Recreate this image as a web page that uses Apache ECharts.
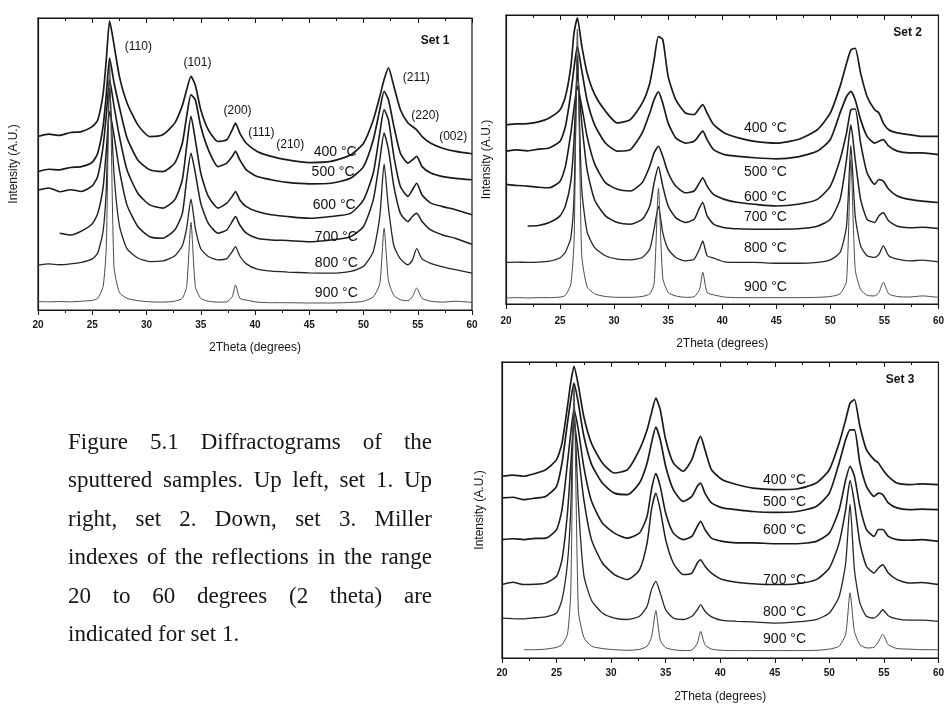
<!DOCTYPE html>
<html>
<head>
<meta charset="utf-8">
<script src="https://cdn.jsdelivr.net/npm/echarts@6/dist/echarts.min.js"></script>
<style>
  html, body { margin: 0; padding: 0; background: #ffffff; }
  #chart { width: 947px; height: 705px; }
</style>
</head>
<body>
<div id="chart"></div>
<script>
// Diffraction angle grid (degrees 2θ) shared by every pattern
const twoTheta = [20,21,22,23,24,25, 25.5,26,26.3,26.6,27,27.5, 28.2,29.2,30.3,31.5,32.6,33.3,
  33.7,34.1,34.5,35,35.7,36.6, 37.4,37.9,38.2,38.6,39.2,40.2, 41.5,43,45,47,48.8,50,
  50.9,51.5,51.9,52.3,52.8,53.4, 54.1,54.5,54.9,55.4,56.2,57.3, 58.5,60];

// Set 1 intensities (offset stack, arbitrary units)
const set1_400 = [59.4,60.2,59.8,60.8,61.1,62.8, 65,74,86,99,91,80, 71,63.4,59.4,60,64,70, 75.4,80,77,68.6,61.7,57.7, 58.3,61.7,64,60.6,57.1,54.3, 52.6,51.4,50.5,50.9,53.1,57.1, 65.1,73.1,78.9,82.9,76.6,68.6, 64,62.9,61.7,59.4,57.1,55.4, 54.3,53.5];
const set1_500 = [47.4,48.2,48,48.8,49.1,50.6, 53.7,62.9,74,86.3,78,69.5, 59,51.4,48,47.4,50.3,57.1, 66.3,73.7,72,62.9,54.9,49.1, 50.3,52.6,54.3,51.4,48,45.7, 44.6,43.7,43.2,43.4,45.1,49.1, 58.3,68.6,74.9,72,62.9,53.7, 50.3,51.4,52.6,49.1,46.9,45.7, 45.1,44.6];
const set1_600 = [41.1,41.8,40.5,41.2,40.6,42.5, 45.7,56,67,78.9,70,59.5, 48,40,36,34.9,37.7,44.6, 56,66.3,58.3,46.9,38.9,34.9, 36.6,38.9,40.6,37.7,35.4,33.7, 32.6,32,31.4,32,33.1,37.7, 46.9,60.6,68.6,65.1,52.6,42.3, 38.9,41.1,43.4,39.4,36.6,35.4, 34.3,32.6];
const set1_700 = [null,null,26.3,25.7,27,29.5, 33,42,54.9,68,60,48, 36,28.6,25.1,24.6,27.4,33.1, 44.6,53.7,46.9,36.6,29.7,26.3, 27.4,30.3,32,29.1,26.3,24.6, 24,23.8,23.4,24,25.1,28.6, 37.7,51.4,60.6,54.9,42.3,33.1, 30.3,32,33.1,30.3,27.4,25.7, 24.5,22.5];
const set1_800 = [15.4,15.8,15.5,15.8,16.3,17.5, 19.5,27,42,76,47,29, 21,17.8,16.6,16.8,18.5,22, 28,38,28,21,18.3,17.2, 17.6,20,21.7,18.5,15.8,14, 13.3,13,12.7,12.6,13.2,15, 20,32,50,35,22,17.5, 15.5,17,21,17.5,16,14.8, 13.8,12.6];
const set1_900 = [2.9,2.8,2.9,2.8,3,3.3, 4,8,22,85,15,6, 4,3.2,2.8,2.7,3,4, 8,30,8,4,3,2.7, 2.8,4.5,8.6,4,3.4,2.7, 2.5,2.5,2.4,2.4,2.6,3, 4.5,9,28,10,5,3.5, 3.2,4.5,7.5,4,3,2.7, 3,2.6];

// Set 2 intensities
const set2_400 = [62,62.3,62.4,63,64.4,67.2, 71.8,82.2,94,99,89.5,80, 72.5,66.7,62.6,63.8,69.5,76.4, 84.5,92.5,91.5,78.7,70.7,66.1, 65.5,67.8,69,66.1,62.1,59.2, 57.5,56.3,55.7,56.9,60.3,66.1, 75.3,83.3,87.9,88.5,79.9,71.8, 67.2,66.1,62.6,60.3,59.2,58.6, 58,58];
const set2_500 = [52.9,53.3,53,53.6,54,56.3, 61.5,73,82,89.1,81,70.5, 62,55.7,52.9,53.4,59.2,66.1, 70.7,73.4,69.5,62.6,57.5,55.7, 56.3,58.6,59.8,56.9,53.4,51.7, 51.1,50.6,50.2,50.9,52.9,56.9, 66.1,71.8,73.6,70.7,63.8,58, 55.7,56.3,56.9,54.6,52.9,52.3, 52.3,51.7];
const set2_600 = [41.4,41,40.8,40.4,40.2,42.5, 47.7,59.2,68,75.3,68.5,58, 48.5,42,39.7,39.1,42,47.7, 52.3,54.6,51.1,45.4,40.8,38.5, 39.1,42,43.7,40.8,37.9,36.2, 35.1,34.5,33.9,34.5,36.2,40.8, 50,59.2,67.2,67.5,55.7,45.4, 41.4,43.1,42.5,39.7,37.4,36.2, 35.6,35.1];
const set2_700 = [null,null,27,27.2,28.2,30.5, 34,42.5,57,80,63,46.5, 36,30.5,28.2,27.6,29.3,33.9, 42,47.5,40.8,33.9,29.9,28.2, 29.3,33.3,35.1,30.5,27.6,26.4, 26,25.9,25.9,26,26.9,29.3, 36.2,50,62,50,36.2,29.3, 28.2,30.5,31.6,28.7,26.9,26.4, 26.6,26.1];
const set2_800 = [14.4,14.5,14.4,14.5,14.8,16, 18,23,38,86,40,25, 19.5,16.7,15.5,15.3,16.1,19, 25.9,33.9,24.7,19,16.1,14.9, 15.5,19,21.8,16.7,15.9,14.6, 14.4,14.4,14.1,14.1,14.4,15.3, 17.8,27,55,30.5,20.1,16.7, 16.1,17.2,20.1,16.7,15.5,14.9, 15.2,14.6];
const set2_900 = [2.1,2.2,2.1,2.2,2.2,2.4, 3,7,22,95,17,6, 3.5,2.6,2.3,2.3,2.6,3.5, 7,40,9,4,2.8,2.3, 2.5,5,11,4,3.2,2.4, 2.2,2.2,2.2,2.2,2.3,2.6, 3.5,8,50,12,5,3, 2.8,4,7.5,3.5,2.6,2.4, 2.8,2.3];

// Set 3 intensities
const set3_400 = [61.4,61.8,61.4,62.3,63.6,67, 72.6,85,93,98.5,92,81.5, 72.5,65.9,62.5,63.6,70.4,77.1, 82.8,87.8,83.9,73.8,65.9,63.1, 67,72.6,74.9,70.4,63.6,60.2, 58.6,57.4,56.9,57.1,59.1,63.6, 72.6,80.5,86.1,87.3,78.3,70.4, 67,65.9,63.6,61.4,59.1,58.6, 58.8,58.6];
const set3_500 = [54.1,54.3,53.5,54,54.6,58, 65.9,79.4,87,92.9,86,75, 65.5,59.1,55.7,55.2,59.1,65.9, 72.6,78,73.8,64.8,56.9,52.9, 54.6,58,59.1,55.7,52.4,50.7, 50.1,49.5,49.2,49.5,51.2,55.7, 65.9,73.8,77.1,77.1,65.9,58, 54.6,55.7,55.2,52.4,50.7,50.1, 50.3,50.1];
const set3_600 = [40,40.3,40,40.4,40.5,43.4, 50.1,65.9,76,83.9,77,64.5, 53,45.6,42.2,40.5,42.2,47.9, 56.9,62.3,58,49,42.2,40, 41.1,44.5,46.2,43.4,40.5,39.4, 38.9,38.9,38.6,38.6,39.4,42.2, 50.1,60.2,64.8,61.4,51.2,43.4, 41.1,43.4,43.4,41.1,40,39.8, 40,39.4];
const set3_700 = [24.8,25.6,24.8,24.9,25.3,27.6, 33.2,49,65,80,69,53.5, 40,32.1,28.2,26.5,29.8,38.9, 50.1,55.7,50.1,40,32.1,28.2, 28.7,32.1,33.2,31,28.7,26.5, 25.6,25.1,24.8,25.1,26.5,30.4, 38.9,50.1,60,52.4,38.9,31, 28.7,30.4,31.5,28.7,26.5,25.3, 25.5,24.8];
const set3_800 = [13.5,13.3,13.2,13.6,13.9,15.2, 19.7,32.1,50,85,52,28, 19.5,15.2,13.5,13,14.1,17.5, 23.1,25.9,22,16.3,13.5,13, 14.1,16.3,18,15.8,13.9,12.7, 12.4,12.2,11.8,12.2,13,15.2, 20.8,32.1,52,29.8,18.6,14.1, 13.5,14.6,16.3,14.3,13.2,12.8, 12.8,12.4];
const set3_900 = [null,null,2.8,2.8,3,3.6, 4.5,8,22,92,16,7, 4,3.2,2.8,2.6,2.9,4, 7,16,6,3.5,2.8,2.5, 2.7,5,9,4.5,3,2.6, 2.5,2.5,2.5,2.5,2.6,3, 4,8,22,9,4.5,3.4, 3.6,5.5,8,4.5,3.2,3, 2.8,2.8];

// Annealing temperatures and where their labels sit (2θ, intensity)
const tempLabels = ['400 °C', '500 °C', '600 °C', '700 °C', '800 °C', '900 °C'];
const set1TempAt = [[47.4,54.2],[47.2,47.3],[47.3,36],[47.5,25],[47.5,16.1],[47.5,5.8]];
const set2TempAt = [[44,60.9],[44,45.7],[44,37],[44,30.1],[44,19.4],[44,5.9]];
const set3TempAt = [[45.9,60.2],[45.9,52.8],[45.9,43.3],[45.9,26.4],[45.9,15.6],[45.9,6.2]];

// Miller indices of the reflections (set 1)
const millerIndices = ['(110)', '(101)', '(200)', '(111)', '(210)', '(211)', '(220)', '(002)'];
const millerAt = [[29.25,90.2],[34.7,84.7],[38.4,68.2],[40.6,60.7],[43.25,56.6],[54.87,79.5],[55.7,66.5],[58.27,59.3]];

const setNames = ['Set 1', 'Set 2', 'Set 3'];
const setNameAt = [[56.6,92.2],[57.15,93.8],[56.5,94]];

const captionLines = [
  'Figure 5.1 Diffractograms of the',
  'sputtered samples. Up left, set 1. Up',
  'right, set 2. Down, set 3. Miller',
  'indexes of the reflections in the range',
  '20 to 60 degrees (2 theta) are',
  'indicated for set 1.'
];

// ---------------------------------------------------------------------------
const INK = '#161616';
const SANS = '"Liberation Sans", Arial, Helvetica, sans-serif';
const SERIF = '"Liberation Serif", "Times New Roman", serif';

const sets = [
  { curves: [set1_400, set1_500, set1_600, set1_700, set1_800, set1_900], temps: set1TempAt,
    grid: { left: 38, top: 18, width: 434, height: 292 }, labelMargin: 10, nameGap: 32, yNameGap: 18 },
  { curves: [set2_400, set2_500, set2_600, set2_700, set2_800, set2_900], temps: set2TempAt,
    grid: { left: 506, top: 15, width: 435, height: 289 }, labelMargin: 12, nameGap: 34, yNameGap: 13 },
  { curves: [set3_400, set3_500, set3_600, set3_700, set3_800, set3_900], temps: set3TempAt,
    grid: { left: 502, top: 362, width: 441, height: 296 }, labelMargin: 10, nameGap: 33, yNameGap: 16 }
];

const curveStyles = [
  { color: '#1a1a1a', width: 1.7 },
  { color: '#1a1a1a', width: 1.7 },
  { color: '#1a1a1a', width: 1.6 },
  { color: '#1e1e1e', width: 1.5 },
  { color: '#262626', width: 1.3 },
  { color: '#4a4a4a', width: 1.0 }
];

function pairs(values) {
  const out = [];
  values.forEach((v, i) => { if (v !== null) out.push([twoTheta[i], v]); });
  return out;
}

const grids = [], xAxes = [], yAxes = [], series = [];

sets.forEach((s, gi) => {
  grids.push(Object.assign({ show: true, borderColor: INK, borderWidth: 1.2, backgroundColor: 'transparent' }, s.grid));

  // bottom axis with labels
  xAxes.push({
    gridIndex: gi, type: 'value', min: 20, max: 60, interval: 5, position: 'bottom',
    axisLine: { show: true, onZero: false, lineStyle: { color: INK, width: 1.2 } },
    axisTick: { show: true, inside: false, length: 5, lineStyle: { color: INK, width: 1 } },
    minorTick: { show: true, splitNumber: 2, length: 3, lineStyle: { color: INK, width: 1 } },
    splitLine: { show: false },
    axisLabel: { margin: s.labelMargin, fontSize: 10, fontWeight: 'bold', color: INK, fontFamily: SANS },
    name: '2Theta (degrees)', nameLocation: 'middle', nameGap: s.nameGap,
    nameTextStyle: { fontSize: 12, color: INK, fontFamily: SANS }
  });
  // mirrored top axis, ticks only
  xAxes.push({
    gridIndex: gi, type: 'value', min: 20, max: 60, interval: 5, position: 'top',
    axisLine: { show: true, onZero: false, lineStyle: { color: INK, width: 1.2 } },
    axisTick: { show: true, inside: true, length: 5, lineStyle: { color: INK, width: 1 } },
    minorTick: { show: true, splitNumber: 2, length: 3, lineStyle: { color: INK, width: 1 } },
    splitLine: { show: false }, axisLabel: { show: false }
  });
  yAxes.push({
    gridIndex: gi, type: 'value', min: 0, max: 100,
    axisLine: { show: true, lineStyle: { color: INK, width: 1.2 } },
    axisTick: { show: false }, axisLabel: { show: false }, splitLine: { show: false },
    name: 'Intensity (A.U.)', nameLocation: 'middle', nameGap: s.yNameGap, nameRotate: 90,
    nameTextStyle: { fontSize: 12, color: INK, fontFamily: SANS }
  });

  s.curves.forEach((c, ci) => {
    series.push({
      type: 'line', xAxisIndex: gi * 2, yAxisIndex: gi, data: pairs(c),
      showSymbol: false, smooth: 0.2, silent: true, z: 2 + ci,
      lineStyle: curveStyles[ci]
    });
  });

  // temperature labels + set name
  const labelData = s.temps.map((p, i) => ({ value: p, label: { formatter: tempLabels[i] } }));
  labelData.push({ value: setNameAt[gi], label: { formatter: setNames[gi], fontWeight: 'bold', fontSize: 12 } });
  if (gi === 0) {
    millerAt.forEach((p, i) => labelData.push({ value: p, label: { formatter: millerIndices[i], fontSize: 12 } }));
  }
  series.push({
    type: 'scatter', xAxisIndex: gi * 2, yAxisIndex: gi, data: labelData,
    symbolSize: 0.1, silent: true, z: 20, itemStyle: { color: '#ffffff' },
    label: {
      show: true, position: [0, 0], align: 'center', verticalAlign: 'middle',
      fontSize: 14, color: '#111111', opacity: 1, textBorderWidth: 0, fontFamily: SANS
    }
  });
});

// Justified caption block
const CAP_X = 68, CAP_W = 364, CAP_SIZE = 23;
const capCenters = [443, 481, 520, 558, 597, 635];
const ctx = document.createElement('canvas').getContext('2d');
ctx.font = CAP_SIZE + 'px ' + SERIF;
const spaceW = ctx.measureText(' ').width;
const graphics = [];
captionLines.forEach((line, li) => {
  const words = line.split(' ');
  const widths = words.map(w => ctx.measureText(w).width);
  const total = widths.reduce((a, b) => a + b, 0);
  const last = li === captionLines.length - 1;
  const gap = last || words.length < 2 ? spaceW : (CAP_W - total) / (words.length - 1);
  let x = CAP_X;
  words.forEach((w, wi) => {
    graphics.push({
      type: 'text', x: x, y: capCenters[li], silent: true,
      style: { text: w, fontSize: CAP_SIZE, fontFamily: SERIF, fill: '#161616', verticalAlign: 'middle', align: 'left' }
    });
    x += widths[wi] + gap;
  });
});

const chart = echarts.init(document.getElementById('chart'), null, { renderer: 'canvas' });
chart.setOption({
  animation: false,
  backgroundColor: '#ffffff',
  grid: grids,
  xAxis: xAxes,
  yAxis: yAxes,
  series: series,
  graphic: graphics
});
</script>
</body>
</html>
